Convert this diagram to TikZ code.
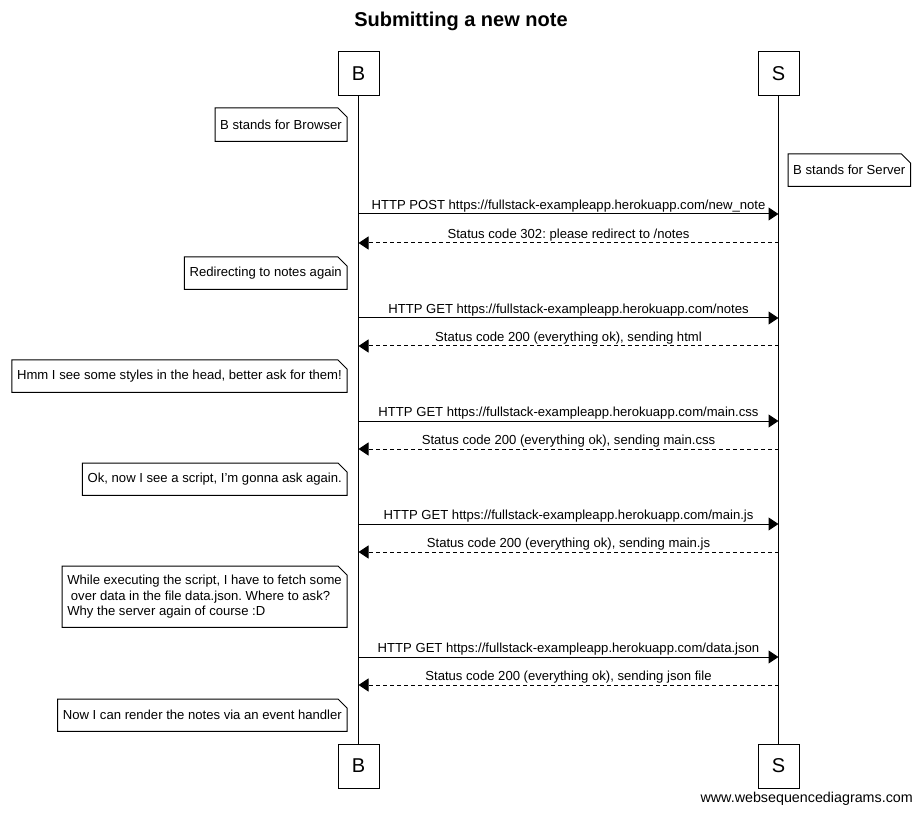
\documentclass[tikz,border=0pt]{standalone}
\usepackage{fontspec}
\setmainfont{Liberation Sans}
\usetikzlibrary{
    arrows.meta,
    positioning,
    calc
}
\frenchspacing
\newcommand{\notefont}{\fontsize{13.1}{15.5}\selectfont}
\tikzstyle{title} = [
    font=\bfseries\fontsize{20}{24}\selectfont
]
\tikzstyle{actor} = [
    rectangle,
    draw=black,
    line width=1pt,
    minimum width=41pt,
    minimum height=44pt,
    inner sep=0pt,
    font=\fontsize{20}{22}\selectfont
]
\tikzstyle{life} = [
    line width=1pt,
    draw=black
]
\tikzstyle{note} = [
    rectangle,
    align=left,
    inner xsep=5pt,
    inner ysep=4pt,
    minimum height=33pt,
    font=\notefont,
    append after command={
        \pgfextra{
            \draw[line width=1pt]
                (\tikzlastnode.north west)
                -- ([xshift=-9pt]\tikzlastnode.north east)
                -- ([yshift=-9pt]\tikzlastnode.north east)
                -- (\tikzlastnode.south east)
                -- (\tikzlastnode.south west) -- cycle;
        }
    }
]
\tikzstyle{msg} = [
    -{Triangle[length=10pt,width=13pt]},
    line width=1pt,
    draw=black
]
\tikzstyle{reply} = [
    msg,
    dash pattern=on 4pt off 3pt
]
\tikzstyle{lbl} = [
    above=0pt,
    inner sep=1pt,
    font=\notefont
]

\begin{document}
\begin{tikzpicture}[x=1pt, y=-1pt]
    \useasboundingbox (0,0) rectangle (922,813);

    % Title
    \node[title] (ttl) at (461,21) {Submitting a new note};

    % Participants and lifelines
    \node[actor] (btop) at (358.5,74) {B};
    \node[actor, right=378pt of btop] (stop) {S};
    \node[actor, below=647pt of btop] (bbot) {B};
    \node[actor, below=647pt of stop] (sbot) {S};
    \draw[life] (btop) -- (bbot);
    \draw[life] (stop) -- (sbot);

    % Notes
    \node[note, anchor=north east] (n1) at (347,108) {B stands for Browser};
    \node[note, anchor=north west, minimum height=32pt] (n2) at (788,154) {B stands for Server};
    \node[note, anchor=north east, minimum height=32pt] (n3) at (347,257) {Redirecting to notes again};
    \node[note, anchor=north east, minimum height=32pt] (n4) at (347,360) {Hmm I see some styles in the head, better ask for them!};
    \node[note, anchor=north east, minimum height=32pt] (n5) at (347,463) {Ok, now I see a script, I'm gonna ask again.};
    \node[note, anchor=north east, minimum height=61pt] (n6) at (347,566)
        {While executing the script, I have to fetch some\\\ over data in the file data.json. Where to ask?\\Why the server again of course :D};
    \node[note, anchor=north east, minimum height=32pt] (n7) at (347,699) {Now I can render the notes via an event handler};

    % Messages
    \coordinate (m1) at (0,214);
    \coordinate (m2) at (0,243);
    \coordinate (m3) at (0,318);
    \coordinate (m4) at (0,346);
    \coordinate (m5) at (0,421);
    \coordinate (m6) at (0,449);
    \coordinate (m7) at (0,524);
    \coordinate (m8) at (0,552);
    \coordinate (m9) at (0,657);
    \coordinate (m10) at (0,685);

    \draw[msg] (btop |- m1) -- node[lbl] {HTTP POST https://fullstack-exampleapp.herokuapp.com/new\_note} (stop |- m1);
    \draw[reply] (stop |- m2) -- node[lbl] {Status code 302: please redirect to /notes} (btop |- m2);
    \draw[msg] (btop |- m3) -- node[lbl] {HTTP GET https://fullstack-exampleapp.herokuapp.com/notes} (stop |- m3);
    \draw[reply] (stop |- m4) -- node[lbl] {Status code 200 (everything ok), sending html} (btop |- m4);
    \draw[msg] (btop |- m5) -- node[lbl] {HTTP GET https://fullstack-exampleapp.herokuapp.com/main.css} (stop |- m5);
    \draw[reply] (stop |- m6) -- node[lbl] {Status code 200 (everything ok), sending main.css} (btop |- m6);
    \draw[msg] (btop |- m7) -- node[lbl] {HTTP GET https://fullstack-exampleapp.herokuapp.com/main.js} (stop |- m7);
    \draw[reply] (stop |- m8) -- node[lbl] {Status code 200 (everything ok), sending main.js} (btop |- m8);
    \draw[msg] (btop |- m9) -- node[lbl] {HTTP GET https://fullstack-exampleapp.herokuapp.com/data.json} (stop |- m9);
    \draw[reply] (stop |- m10) -- node[lbl] {Status code 200 (everything ok), sending json file} (btop |- m10);

    % Footer
    \node[anchor=base east, inner sep=0pt, font=\fontsize{14.3}{16}\selectfont] (wsd) at (913,802) {www.websequencediagrams.com};
\end{tikzpicture}
\end{document}
